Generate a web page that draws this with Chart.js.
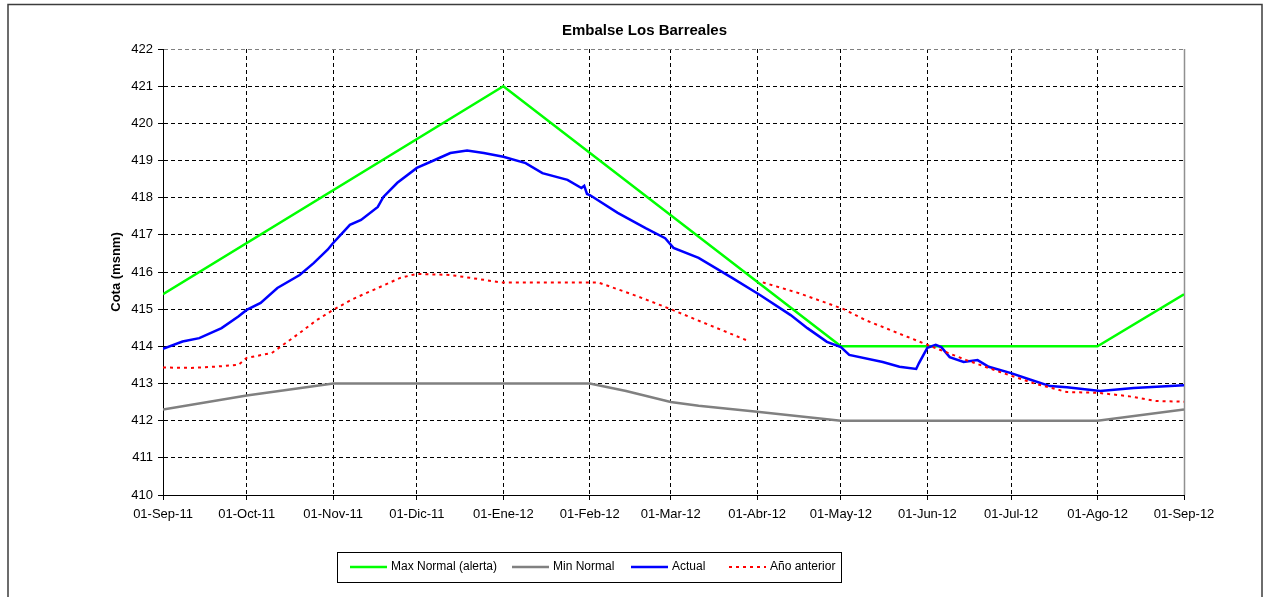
<!DOCTYPE html>
<html>
<head>
<meta charset="utf-8">
<script src="https://cdn.jsdelivr.net/npm/chart.js@4/dist/chart.umd.min.js"></script>
<style>
  html, body { margin: 0; padding: 0; background: #fff; }
  #wrap { width: 1265px; height: 597px; position: relative; }
</style>
</head>
<body>
<div id="wrap"><canvas id="chart-embalse"></canvas></div>
<script>
// ── Data (days counted from 01-Sep-11) ───────────────────────────────────────
const monthDays   = [0, 30, 61, 91, 122, 153, 182, 213, 243, 274, 304, 335, 366];
const monthLabels = ['01-Sep-11', '01-Oct-11', '01-Nov-11', '01-Dic-11', '01-Ene-12', '01-Feb-12',
                     '01-Mar-12', '01-Abr-12', '01-May-12', '01-Jun-12', '01-Jul-12', '01-Ago-12', '01-Sep-12'];

const maxNormalDays   = [0, 122, 243, 335, 366];
const maxNormalLevels = [415.4, 421, 414, 414, 415.4];

const minNormalDays   = [0, 30, 61, 153, 166, 182, 192, 213, 243, 335, 366];
const minNormalLevels = [412.3, 412.68, 413, 413, 412.8, 412.5, 412.4, 412.24, 412, 412, 412.3];

const actualDays = [0, 7, 13, 21, 27, 30, 35, 41, 49, 54, 59, 61, 67, 71, 77, 79, 84, 91, 97, 103,
                    109, 115, 122, 130, 136, 145, 150, 151, 152, 153, 163, 173, 180, 183, 192, 204,
                    214, 225, 231, 238, 243, 246, 258, 264, 270, 271, 274, 277, 279, 282, 287, 292,
                    296, 304, 311, 318, 324, 336, 348, 366];
const actualLevels = [413.93, 414.13, 414.22, 414.49, 414.8, 414.98, 415.17, 415.57, 415.92, 416.24,
                      416.6, 416.78, 417.27, 417.4, 417.75, 418.02, 418.4, 418.8, 419.0, 419.2,
                      419.27, 419.2, 419.1, 418.93, 418.66, 418.48, 418.26, 418.32, 418.1, 418.07,
                      417.59, 417.18, 416.91, 416.65, 416.38, 415.84, 415.38, 414.84, 414.49, 414.12,
                      413.98, 413.77, 413.58, 413.45, 413.39, 413.55, 413.96, 414.04, 413.98, 413.71,
                      413.58, 413.63, 413.45, 413.28, 413.1, 412.93, 412.9, 412.8, 412.88, 412.95];

const prevYearDays = [0, 10, 18, 27, 30, 39, 49, 55, 61, 68, 77, 85, 91, 103, 115, 121, 156, 170,
                      182, 193, 210, 212, 215, 228, 244, 252, 267, 276, 288, 300, 312, 324, 335,
                      346, 356, 366];
const prevYearLevels = [413.43, 413.42, 413.45, 413.5, 413.69, 413.82, 414.36, 414.7, 414.98, 415.27,
                        415.57, 415.84, 415.95, 415.92, 415.79, 415.72, 415.72, 415.35, 415.0, 414.66,
                        414.14, null, 415.72, 415.43, 415.0, 414.7, 414.25, 413.98, 413.63, 413.31,
                        413.01, 412.77, 412.75, 412.66, 412.53, 412.51];

const seriesNames = ['Max Normal (alerta)', 'Min Normal', 'Actual', 'Año anterior'];

function _points(days, levels) {
  return days.map((d, i) => ({ x: d, y: levels[i] }));
}

// ── Plugins: frame + boxed legend ────────────────────────────────────────────
const framePlugin = {
  id: 'frame',
  beforeDraw(chart) {
    const c = chart.ctx;
    c.save();
    c.fillStyle = '#fff';
    c.fillRect(0, 0, chart.width, chart.height);
    c.strokeStyle = '#3c3c3c';
    c.lineWidth = 1.5;
    c.strokeRect(8, 4.5, chart.width - 11, chart.height + 20);
    c.restore();
  },
  beforeDatasetsDraw(chart) {
    const a = chart.chartArea, c = chart.ctx;
    c.save();
    c.strokeStyle = '#909090';
    c.lineWidth = 1.5;
    c.beginPath();
    c.moveTo(a.right + 0.5, a.top);
    c.lineTo(a.right + 0.5, a.bottom);
    c.stroke();
    c.restore();
  },
};

const boxLegendPlugin = {
  id: 'boxLegend',
  afterDraw(chart) {
    const c = chart.ctx;
    const itemX = [350, 512, 631, 729];
    const y = 567;
    c.save();
    c.strokeStyle = '#000';
    c.lineWidth = 1;
    c.strokeRect(337.5, 552.5, 504, 30);
    c.font = '12px "Liberation Sans", Arial, sans-serif';
    c.textBaseline = 'middle';
    c.fillStyle = '#000';
    chart.data.datasets.forEach((ds, i) => {
      c.strokeStyle = ds.borderColor;
      c.lineWidth = ds.borderWidth;
      c.setLineDash(ds.borderDash || []);
      c.beginPath();
      c.moveTo(itemX[i], y);
      c.lineTo(itemX[i] + 37, y);
      c.stroke();
      c.setLineDash([]);
      c.fillText(ds.label, itemX[i] + 41, y);
    });
    c.restore();
  },
};

// ── Chart ────────────────────────────────────────────────────────────────────
Chart.defaults.font.family = '"Liberation Sans", Arial, sans-serif';
Chart.defaults.color = '#000';

new Chart(document.getElementById('chart-embalse'), {
  type: 'line',
  data: {
    datasets: [
      { label: seriesNames[0], data: _points(maxNormalDays, maxNormalLevels),
        borderColor: '#00ff00', borderWidth: 2.5, order: 4 },
      { label: seriesNames[1], data: _points(minNormalDays, minNormalLevels),
        borderColor: '#808080', borderWidth: 2.5, order: 3 },
      { label: seriesNames[2], data: _points(actualDays, actualLevels),
        borderColor: '#0000ff', borderWidth: 2.5, order: 2 },
      { label: seriesNames[3], data: _points(prevYearDays, prevYearLevels),
        borderColor: '#ff0000', borderWidth: 2, borderDash: [3, 4], order: 1 },
    ],
  },
  options: {
    responsive: true,
    maintainAspectRatio: false,
    animation: false,
    spanGaps: false,
    elements: { point: { radius: 0 }, line: { tension: 0, borderCapStyle: 'butt' } },
    layout: { padding: { left: 105, right: 81, top: 0, bottom: 72 } },
    plugins: {
      legend: { display: false },
      tooltip: { enabled: false },
      title: {
        display: true,
        text: 'Embalse Los Barreales',
        font: { size: 15, weight: 'bold' },
        color: '#000',
        padding: { top: 22, bottom: 9 },
      },
    },
    scales: {
      x: {
        type: 'linear',
        min: 0,
        max: 366,
        afterBuildTicks: s => { s.ticks = monthDays.map(v => ({ value: v })); },
        afterFit: s => { s.height = 30; },
        ticks: {
          autoSkip: false,
          maxRotation: 0,
          padding: 7,
          font: { size: 13 },
          callback: (v, i) => monthLabels[i],
        },
        grid: { color: '#000', lineWidth: 1, tickLength: 5, tickColor: '#000' },
        border: { display: true, color: '#000', width: 1, dash: [4, 3] },
      },
      y: {
        min: 410,
        max: 422,
        afterFit: s => { s.width = 58; },
        ticks: { stepSize: 1, padding: 5, font: { size: 13 } },
        title: {
          display: true,
          text: 'Cota (msnm)',
          font: { size: 13, weight: 'bold' },
          padding: { top: 4, bottom: 0 },
        },
        grid: {
          color: c => (c.tick && c.tick.value === 422 ? '#808080' : '#000'),
          lineWidth: 1,
          tickLength: 5,
          tickColor: '#000',
        },
        border: { display: true, color: '#000', width: 1, dash: [4, 3] },
      },
    },
  },
  plugins: [framePlugin, boxLegendPlugin],
});
</script>
</body>
</html>
